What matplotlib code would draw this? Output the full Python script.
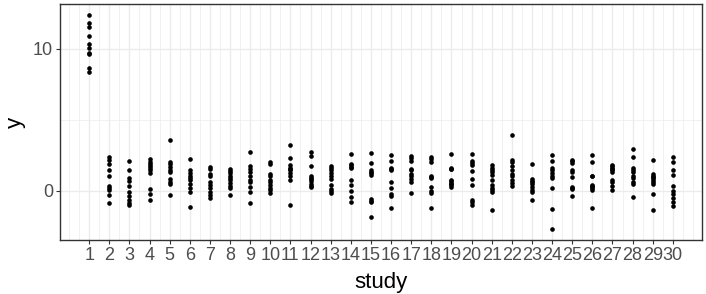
import matplotlib
matplotlib.use("Agg")
import matplotlib.pyplot as plt
from matplotlib.ticker import MultipleLocator

# values, one list per study
s1 = [12.39, 11.8, 11.53, 10.92, 10.35, 10.02, 9.70, 9.65, 8.66, 8.38]
s2 = [2.37, 2.18, 1.90, 1.48, 1.06, 0.35, 0.21, 0.02, -0.30, -0.87]
s3 = [2.11, 1.46, 0.92, 0.66, 0.30, -0.07, -0.35, -0.68, -0.85, -0.99]
s4 = [2.20, 2.02, 1.85, 1.71, 1.60, 1.48, 1.25, 0.12, -0.26, -0.68]
s5 = [3.54, 1.99, 1.85, 1.67, 1.48, 1.29, 0.85, 0.63, 0.44, -0.33]
s6 = [2.23, 1.48, 1.25, 1.01, 0.89, 0.75, 0.47, 0.16, -0.12, -1.13]
s7 = [1.64, 1.53, 1.20, 1.06, 0.58, 0.40, 0.16, -0.12, -0.30, -0.49]
s8 = [1.53, 1.36, 1.22, 1.06, 0.89, 0.73, 0.54, 0.30, 0.16, -0.28]
s9 = [2.75, 1.76, 1.55, 1.29, 1.01, 0.77, 0.58, 0.23, -0.09, -0.85]
s10 = [2.04, 1.90, 1.20, 1.06, 0.77, 0.58, 0.40, 0.21, 0.02, -0.16]
s11 = [3.22, 2.32, 1.78, 1.60, 1.50, 1.43, 1.25, 1.06, 0.77, -1.03]
s12 = [2.70, 2.42, 1.71, 1.06, 0.90, 0.82, 0.66, 0.49, 0.35, 0.26]
s13 = [1.76, 1.60, 1.43, 1.25, 1.06, 0.82, 0.40, 0.12, -0.05, -0.19]
s14 = [2.61, 1.90, 1.78, 1.70, 1.60, 0.73, 0.42, -0.02, -0.44, -0.82]
s15 = [2.65, 1.97, 1.48, 1.34, 1.25, 1.13, -0.58, -0.73, -0.82, -1.83]
s16 = [2.51, 2.06, 1.60, 1.50, 1.43, 0.58, 0.19, -0.21, -0.40, -1.25]
s17 = [2.46, 2.27, 2.11, 1.50, 1.43, 1.20, 1.01, 0.82, 0.58, -0.16]
s18 = [2.37, 2.25, 2.04, 1.06, 0.95, 0.92, 0.26, -0.05, -0.16, -1.22]
s19 = [2.56, 1.60, 1.55, 1.53, 0.73, 0.65, 0.54, 0.45, 0.37, 0.23]
s20 = [2.58, 2.11, 1.95, 1.78, 1.36, 0.85, 0.37, -0.68, -0.82, -1.01]
s21 = [1.78, 1.62, 1.48, 1.29, 1.11, 0.77, 0.40, 0.16, 0.02, -0.12, -1.36]
s22 = [3.92, 2.18, 1.99, 1.76, 1.48, 1.20, 1.01, 0.77, 0.54, 0.35]
s23 = [1.90, 0.82, 0.70, 0.58, 0.44, 0.26, 0.07, -0.12, -0.63]
s24 = [2.51, 2.06, 1.57, 1.43, 1.25, 1.06, 0.87, 0.16, -1.29, -2.72]
s25 = [2.18, 2.06, 1.95, 1.48, 1.34, 0.96, 0.26, 0.20, 0.12, -0.35]
s26 = [2.49, 1.99, 1.05, 1.03, 0.42, 0.35, 0.26, 0.20, 0.07, -1.25]
s27 = [1.83, 1.71, 1.60, 1.55, 1.48, 1.34, 0.77, 0.63, 0.30, 0.07]
s28 = [2.94, 2.37, 1.62, 1.48, 1.34, 1.06, 0.87, 0.63, 0.44, -0.42]
s29 = [2.18, 1.15, 1.01, 0.95, 0.87, 0.73, 0.58, 0.44, -0.26, -1.39]
s30 = [2.35, 2.02, 1.43, 1.11, 0.30, -0.05, -0.21, -0.51, -0.80, -1.06]

studies = [s1, s2, s3, s4, s5, s6, s7, s8, s9, s10,
           s11, s12, s13, s14, s15, s16, s17, s18, s19, s20,
           s21, s22, s23, s24, s25, s26, s27, s28, s29, s30]
study_ids = list(range(1, len(studies) + 1))

xs = []
ys = []
for sid, vals in zip(study_ids, studies):
    xs += [sid] * len(vals)
    ys += vals

plt.rcParams['font.family'] = ['Liberation Sans', 'DejaVu Sans']

fig = plt.figure(figsize=(7.06, 2.94), dpi=100)
ax = fig.add_axes([60 / 706, 1 - 240 / 294, 642 / 706, 236 / 294])

ax.scatter(xs, ys, s=11, c='black', linewidths=0, zorder=3)

# ggplot style 5% expansion
xr = max(xs) - min(xs)
yr = max(ys) - min(ys)
ax.set_xlim(min(xs) - 0.05 * xr, max(xs) + 0.05 * xr)
ax.set_ylim(min(ys) - 0.05 * yr, max(ys) + 0.05 * yr)

ax.set_xticks(study_ids)
ax.set_xticklabels([str(i) for i in study_ids])
ax.xaxis.set_minor_locator(MultipleLocator(0.5))
ax.set_yticks([0, 10])
ax.yaxis.set_minor_locator(MultipleLocator(5))

ax.grid(which='major', color='#EBEBEB', linewidth=1.0, zorder=0)
ax.grid(which='minor', color='#EBEBEB', linewidth=0.5, zorder=0)
ax.set_axisbelow(True)

for sp in ax.spines.values():
    sp.set_color('#333333')
    sp.set_linewidth(1.0)

ax.tick_params(which='major', length=3, width=0.8, color='#333333',
               labelsize=13, labelcolor='#4D4D4D', pad=2)
ax.tick_params(which='minor', length=0)

ax.set_xlabel('study', fontsize=16, labelpad=6)
ax.set_ylabel('y', fontsize=16, labelpad=5)

fig.savefig('out.png', dpi=100)
